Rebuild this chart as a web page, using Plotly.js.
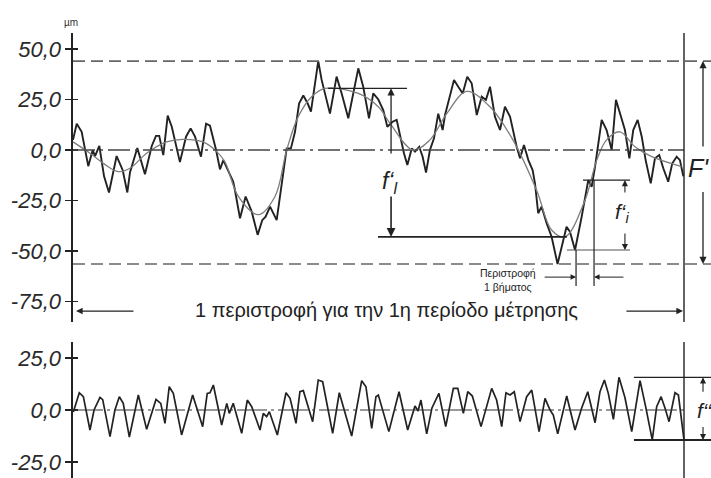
<!DOCTYPE html>
<html>
<head>
<meta charset="utf-8">
<script src="https://cdn.plot.ly/plotly-3.0.1.min.js"></script>
<style>html,body{margin:0;padding:0;background:#fff;}#chart{width:711px;height:478px;}</style>
</head>
<body>
<div id="chart"></div>
<script>
// Angle of rotation (deg) and measured deviation (µm), single-flank test
const angleTop = [0,2.2,5.1,9.0,11.6,13.0,15.5,18.3,21.2,25.7,29.3,32.0,33.6,37.9,42.4,46.4,48.9,50.8,53.2,55.8,58.2,63.0,66.6,69.3,71.9,75.4,78.4,80.7,84.3,86.6,88.6,91.1,94.4,95.4,98.4,101.7,105.3,108.8,111.5,113.5,116.1,120.0,123.0,125.9,128.4,130.8,133.2,135.7,138.3,140.2,144.5,146.5,151.4,155.3,158.3,162.2,168.1,171.0,174.4,176.9,179.9,182.8,185.2,188.3,190.7,193.1,195.0,197.0,199.6,201.5,204.0,206.0,208.0,210.3,212.7,215.2,217.8,219.2,222.1,224.5,227.0,229.6,232.3,234.9,237.9,240.8,243.3,245.7,248.6,251.6,254.5,257.5,261.4,263.4,265.7,268.3,270.8,272.2,274.1,276.1,279.1,282.0,285.5,290.8,292.8,295.8,299.7,302.1,303.6,305.6,307.6,311.5,314.4,317.4,319.9,322.9,325.2,327.8,330.1,332.7,335.1,337.4,340.4,342.9,345.4,347.8,350.7,353.1,355.7,357.6,359.6];
const devTop = [5,13,9,-8,0,-3,2,-13,-21,-3,-10,-21,-11,1,-12,2,7,7,-2.5,17,11.5,-6,6.6,10.7,6.6,-3.3,13,12,0,-9.6,-5,-10,-15.7,-19.8,-33.8,-23,-30.5,-42,-34.7,-33,-28,-34.7,-17.3,0.8,0.8,9,23,27,23,19,44,34.7,18,36.3,28,15.7,40.4,31.3,15.7,28,25,19.8,11.5,14,14.9,5.8,-1.6,-7.4,0.8,-0.8,1.6,-3.3,-11.2,0,5.8,18,9.9,17.3,26.4,34.7,31.3,28,36.3,33,17.3,26.4,24.8,31.3,16.5,9.9,21.4,16.5,1.6,-4.1,2.5,-5,-9.9,-16.5,-31.3,-28,-36.3,-42.9,-56.4,-38,-40.4,-49.5,-33,-21.4,-14.9,-18.2,-8.2,14.9,9.9,0,24.8,16.5,9.9,-4.1,9.9,14.9,6.6,-5,-16.5,-4.1,-2.5,-9,-15.7,-6.6,-3.3,-5,-13];

// Long-wave (smoothed) component
const angleMean = [0,10.0,17.9,26.7,33.6,43.4,55.2,64.8,76.6,84.7,89.6,97.4,109.2,119.0,125.9,132.7,140.6,148.5,168.1,179.9,186.8,200.3,210.3,220.2,232.0,245.7,259.2,273.2,282.0,289.9,301.7,308.6,314.4,322.3,331.1,341.0,358.6];
const devMean = [4,-1.6,-6.6,-10.7,-9,-1.6,4,5.3,4,-0.8,-6,-23,-32,-23,0,16.5,26.4,30.5,28,21.4,13.2,0,5,18,29,21.4,5,-20,-39.6,-43,-24.8,-5,5,9,1.6,-3.3,-8.2];

// Short-wave component (lower chart)
const angleBot = [0.2,3.7,6.1,10.0,12.4,15.9,17.5,21.8,24.7,27.3,29.6,33.2,38.5,43.4,48.9,51.7,54.2,56.7,59.1,64.0,70.5,76.4,79.1,80.7,82.7,87.6,90.6,92.1,94.4,99.4,102.7,105.3,110.2,112.1,114.1,115.7,120.4,125.5,127.9,131.4,133.7,135.7,141.2,144.5,147.1,153.0,156.9,164.2,170.1,172.6,176.0,178.5,179.9,186.1,192.1,197.2,201.5,203.3,205.0,208.4,211.5,215.6,219.6,224.1,226.7,230.0,232.6,235.3,240.4,246.7,249.6,252.6,255.1,257.5,260.0,263.4,267.3,270.3,274.6,278.1,281.1,283.0,285.6,290.9,295.8,299.7,303.3,307.6,310.5,313.1,315.4,318.4,321.7,325.2,329.2,334.1,337.4,341.3,343.9,346.5,348.8,351.2,354.7,356.7,360.0];
const devBot = [-1,8.3,6.4,-9.6,0,6.1,5,-12.8,0,6.4,3.2,-13,7.2,-9.3,5.1,3.2,-6.4,11.2,8,-12,7.2,-8,8,8.3,12,-7.2,3.2,-1.6,3.2,-11.2,4.8,1.6,-9.6,-1.6,-3.2,-0.8,-12,8.3,5.6,-6.4,8.8,9.3,-5.6,14.4,13.6,-11.2,8.3,-12.5,14.1,11.2,-8.8,6.4,7.2,-10.4,8.8,-9.6,1.9,-0.5,4.8,-11.5,1,8,-8,10.4,10.4,-1.6,8.8,6.7,-8,10.4,4.8,-8,8.3,7.2,8.8,-5.6,6.4,9.6,-10.4,5.6,0,-2.4,-11.5,6.7,-9.6,1,8.8,-6.1,8.8,14.4,8,-4.5,15.7,6,-10.4,14.1,1.6,-14.4,1.6,6.4,1,-5.6,8.3,7.2,-14.4];

const topTickVals = [50,25,0,-25,-50,-75];
const topTickText = ['50,0','25,0','0,0','-25,0','-50,0','-75,0'];
const botTickVals = [25,0,-25];
const botTickText = ['25,0','0,0','-25,0'];

const fiTop = -14.9, fiBot = -49.5; // one-pitch deviation limits

const topMax = Math.max(...devTop), topMin = Math.min(...devTop);
const meanMax = Math.max(...devMean), meanMin = Math.min(...devMean);
const botMax = Math.max(...devBot), botMin = Math.min(...devBot);

const ink = '#222';
const FONT = 'Liberation Sans, Arial, sans-serif';

const traces = [
  {x: angleTop, y: devTop, xaxis:'x', yaxis:'y', mode:'lines', line:{color:ink, width:1.9}, hoverinfo:'skip'},
  {x: angleMean, y: devMean, xaxis:'x', yaxis:'y', mode:'lines', line:{color:'#7d7d7d', width:1.3, shape:'spline', smoothing:1}, hoverinfo:'skip'},
  {x: angleBot, y: devBot, xaxis:'x', yaxis:'y2', mode:'lines', line:{color:ink, width:1.7}, hoverinfo:'skip'},
  {x: [], y: [], xaxis:'x', yaxis:'y3', hoverinfo:'skip'},
  {x: [], y: [], xaxis:'x', yaxis:'y4', hoverinfo:'skip'}
];

function hline(y, x0, x1, yref, opts) {
  return Object.assign({type:'line', xref:'x', yref:yref, x0:x0, x1:x1, y0:y, y1:y, line:{color:ink, width:1.4}}, opts||{});
}
function vline(x, y0, y1, yref, opts) {
  return Object.assign({type:'line', xref:'x', yref:yref, x0:x, x1:x, y0:y0, y1:y1, line:{color:ink, width:1.2}}, opts||{});
}

const shapes = [
  hline(topMax, 0, 376, 'y', {line:{color:'#666', width:1.7, dash:'12px,6px'}}),
  hline(topMin, 0, 376, 'y', {line:{color:'#666', width:1.7, dash:'12px,6px'}}),
  hline(0, 0, 360, 'y', {line:{color:'#444', width:1.3, dash:'22px,5px,3px,5px'}}),
  hline(0, 0, 360, 'y2', {line:{color:'#333', width:1.2, dash:'30px,4px,3px,4px'}}),
  vline(360, 0, 1, 'y domain', {line:{color:ink, width:1.4}}),
  vline(360, -0.02, 1, 'y2 domain', {line:{color:ink, width:1.4}}),
  hline(meanMax, 150.2, 196.8, 'y'),
  hline(meanMin, 179.7, 291, 'y', {line:{color:ink, width:1.9}}),
  hline(fiTop, 300.5, 328.2, 'y', {line:{color:ink, width:1.1}}),
  hline(fiBot, 291, 328.2, 'y', {line:{color:'#555', width:1.1}}),
  vline(296.4, fiBot, -67.3, 'y'),
  vline(307, fiTop, -67.3, 'y'),
  hline(botMax, 330.5, 376, 'y2', {line:{color:ink, width:1.3}}),
  hline(botMin, 330.5, 376, 'y2', {line:{color:ink, width:2}})
];

function arrow(x, y, ax, ay, yref, w) {
  return {x:x, y:y, ax:ax, ay:ay, xref:'x', yref:yref, axref:'x', ayref:yref, text:'', showarrow:true,
          arrowhead:2, arrowsize:1.1, arrowwidth:w||1.3, arrowcolor:ink};
}
function label(x, y, text, size, opts) {
  return Object.assign({x:x, y:y, xref:'x', yref:'y', text:text, showarrow:false,
          font:{family:FONT, size:size, color:'#222'}}, opts||{});
}

const annotations = [
  {x:-0.017, y:1.04, xref:'paper', yref:'paper', text:'µm', showarrow:false, font:{family:FONT, size:10, color:'#333'}},
  label(185, -79.4, '1 περιστροφή για την 1η περίοδο μέτρησης', 20),
  arrow(1.8, -79.7, 36.5, -79.7, 'y', 1.2),
  arrow(359.4, -79.7, 325.2, -79.7, 'y', 1.2),
  // F'
  arrow(371.2, topMax, 371.2, 1, 'y'),
  arrow(371.2, topMin, 371.2, -20, 'y'),
  label(375.9, -8.9, "F'", 25, {xanchor:'right', font:{family:FONT, size:25, color:'#222', style:'italic'}}),
  // f'_l
  arrow(187.4, meanMax, 187.4, -2.5, 'y'),
  arrow(187.4, meanMin, 187.4, -22.3, 'y', 1.6),
  label(186.8, -16.3, 'f‘<sub>l</sub>', 23, {font:{family:FONT, size:23, color:'#222', style:'italic'}}),
  // f'_i
  arrow(325.2, fiTop, 325.2, -21.8, 'y', 1.1),
  arrow(325.2, fiBot, 325.2, -40.6, 'y', 1.1),
  label(323.6, -31.2, 'f‘<sub>i</sub>', 21, {font:{family:FONT, size:21, color:'#222', style:'italic'}}),
  // one pitch
  arrow(296.4, -62.9, 277, -62.9, 'y', 1),
  arrow(307, -62.9, 325.2, -62.9, 'y', 1),
  label(256.3, -64.3, 'Περιστροφή<br>1 βήματος', 10.5),
  // f''
  arrow(371.2, botMax, 371.2, 8, 'y2', 1.1),
  arrow(371.2, botMin, 371.2, -7.5, 'y2', 1.1),
  label(366.5, 0, 'f‘‘', 21, {yref:'y2', xanchor:'left', font:{family:FONT, size:21, color:'#222', style:'italic'}})
];

const yCommon = {
  showgrid:false, zeroline:false, showline:true, linecolor:ink, linewidth:1.6,
  ticks:'outside', ticklen:6, tickwidth:1.5, tickcolor:ink, automargin:false,
  tickfont:{family:FONT, size:22, color:'#2a2a2a', style:'italic'}, fixedrange:true
};

const layout = {
  width:711, height:478,
  margin:{l:73, r:0, t:33, b:0},
  paper_bgcolor:'#fff', plot_bgcolor:'#fff',
  showlegend:false,
  xaxis:{range:[0, 375.91], visible:false, fixedrange:true, anchor:'y'},
  yaxis:Object.assign({}, yCommon, {domain:[0.3506, 1], range:[-85.1, 57.9], tickvals:topTickVals, ticktext:topTickText}),
  yaxis2:Object.assign({}, yCommon, {domain:[0, 0.3056], range:[-32.7, 32.7], tickvals:botTickVals, ticktext:botTickText}),
  yaxis3:{overlaying:'y', side:'left', range:[-85.1, 57.9], tickvals:topTickVals, showticklabels:false, ticks:'inside', ticklen:5, tickwidth:1.5, tickcolor:ink, showgrid:false, zeroline:false, showline:false, automargin:false},
  yaxis4:{overlaying:'y2', side:'left', range:[-32.7, 32.7], tickvals:botTickVals, showticklabels:false, ticks:'inside', ticklen:5, tickwidth:1.5, tickcolor:ink, showgrid:false, zeroline:false, showline:false, automargin:false},
  shapes:shapes,
  annotations:annotations
};

Plotly.newPlot('chart', traces, layout, {staticPlot:true, displayModeBar:false});
</script>
</body>
</html>
